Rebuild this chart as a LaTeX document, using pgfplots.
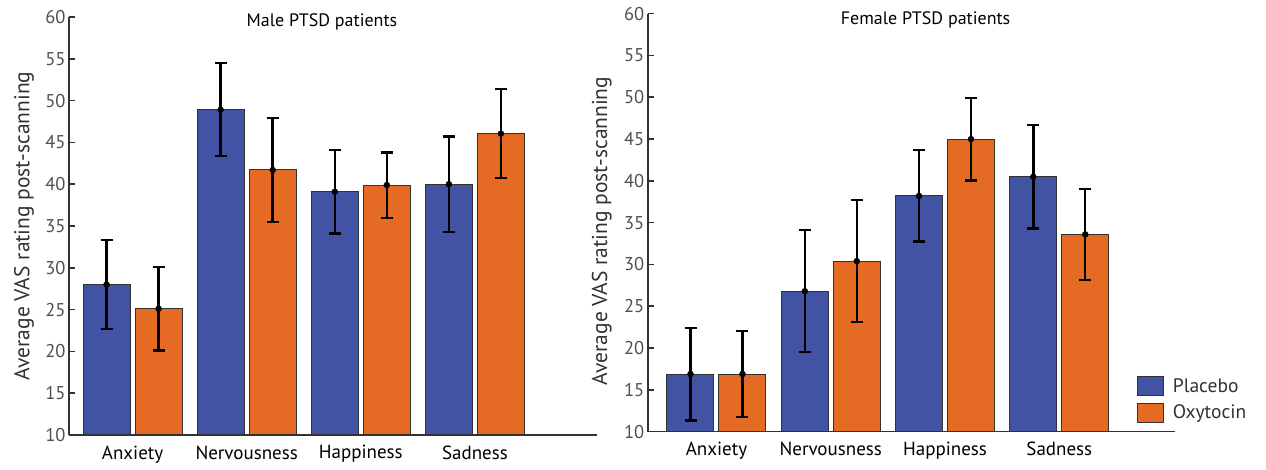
\documentclass[border=0pt]{standalone}
\usepackage{pgfplots}
\pgfplotsset{compat=1.18}
\usepackage{pgfplotstable}
\usepackage{fontspec}
\setmainfont{PT Sans}
\definecolor{pblue}{RGB}{67,83,164}
\definecolor{porange}{RGB}{229,106,36}
\definecolor{axgray}{RGB}{50,50,50}
\definecolor{tickgray}{RGB}{80,80,80}

\pgfplotstableread{
x b be o oe
0 28.0 5.3 25.1 5.0
1 48.9 5.55 41.7 6.2
2 39.1 5.0 39.9 3.9
3 40.0 5.7 46.05 5.35
}\leftdata
\pgfplotstableread{
x b be o oe
0 16.9 5.55 16.9 5.1
1 26.8 7.3 30.4 7.3
2 38.2 5.45 45.0 4.95
3 40.5 6.2 33.6 5.45
}\rightdata

\pgfplotsset{
  panel/.style={
    scale only axis,
    width=527pt, height=418pt,
    ymin=10, ymax=60, ytick={10,15,...,60},
    axis x line=bottom, axis y line=left,
    axis line style={-, line width=1.6pt, draw=axgray},
    tick align=inside, major tick length=6pt,
    y tick style={line width=1.6pt, draw=axgray},
    x tick style={draw=none},
    xtick={0,1,2,3},
    xticklabels={Anxiety,Nervousness,Happiness,Sadness},
    xticklabel style={font=\fontsize{19}{22}\selectfont, yshift=-7pt},
    yticklabel style={font=\fontsize{18.5}{20}\selectfont, text=tickgray},
    /pgf/number format/assume math mode=true,
    ylabel={Average VAS rating post-scanning},
    ylabel style={font=\fontsize{21.5}{24}\selectfont, text=axgray},
    clip=false,
  },
  barb/.style={ybar, bar width=47pt, bar shift=-26pt, fill=pblue, draw=axgray, line width=1pt,
    legend image code/.code={\draw[fill=pblue, draw=axgray, line width=1pt] (0pt,-9.5pt) rectangle (26pt,9.5pt);}},
  baro/.style={ybar, bar width=47pt, bar shift=26pt, fill=porange, draw=axgray, line width=1pt,
    legend image code/.code={\draw[fill=porange, draw=axgray, line width=1pt] (0pt,-9.5pt) rectangle (26pt,9.5pt);}},
  errp/.style={black, only marks, mark=*, mark size=3pt, forget plot,
    error bars/.cd, y dir=both, y explicit,
    error bar style={line width=2.4pt, black},
    error mark options={rotate=90, mark size=6pt, line width=2.2pt, black}},
}

\begin{document}
\begin{tikzpicture}
\useasboundingbox (0,0) rectangle (1266pt,470pt);
% Left panel
\begin{axis}[panel, at={(69pt,35pt)}, anchor=south west, width=528pt,
  xmin=-0.557, xmax=4.07,
  ylabel style={at={(axis description cs:-0.085,0.5)}, anchor=center}]
\addplot[barb] table[x=x, y=b]{\leftdata};
\addplot[baro] table[x=x, y=o]{\leftdata};
\addplot[errp] table[x expr=\thisrow{x}-0.228, y=b, y error=be]{\leftdata};
\addplot[errp] table[x expr=\thisrow{x}+0.228, y=o, y error=oe]{\leftdata};
\node[font=\fontsize{18}{21}\selectfont] at (axis cs:1.66,59.4) {Male PTSD patients};
\end{axis}
% Right panel
\begin{axis}[panel, at={(647.7pt,38.3pt)}, anchor=south west,
  xmin=-0.602, xmax=4.01,
  ylabel style={at={(axis description cs:-0.087,0.48)}, anchor=center},
  legend style={at={(rel axis cs:0.928,0.133)}, anchor=north west, draw=none, fill=none,
    inner sep=0pt, row sep=6.5pt, font=\fontsize{19.5}{22}\selectfont,
    nodes={inner sep=0pt, text=axgray}},
  legend cell align=left]
\addplot[barb] table[x=x, y=b]{\rightdata};
\addlegendentry{\hspace{9pt}Placebo}
\addplot[baro] table[x=x, y=o]{\rightdata};
\addlegendentry{\hspace{9pt}Oxytocin}
\addplot[errp] table[x expr=\thisrow{x}-0.2275, y=b, y error=be]{\rightdata};
\addplot[errp] table[x expr=\thisrow{x}+0.2275, y=o, y error=oe]{\rightdata};
\node[font=\fontsize{18}{21}\selectfont] at (axis cs:1.83,59.25) {Female PTSD patients};
\end{axis}
\end{tikzpicture}
\end{document}
